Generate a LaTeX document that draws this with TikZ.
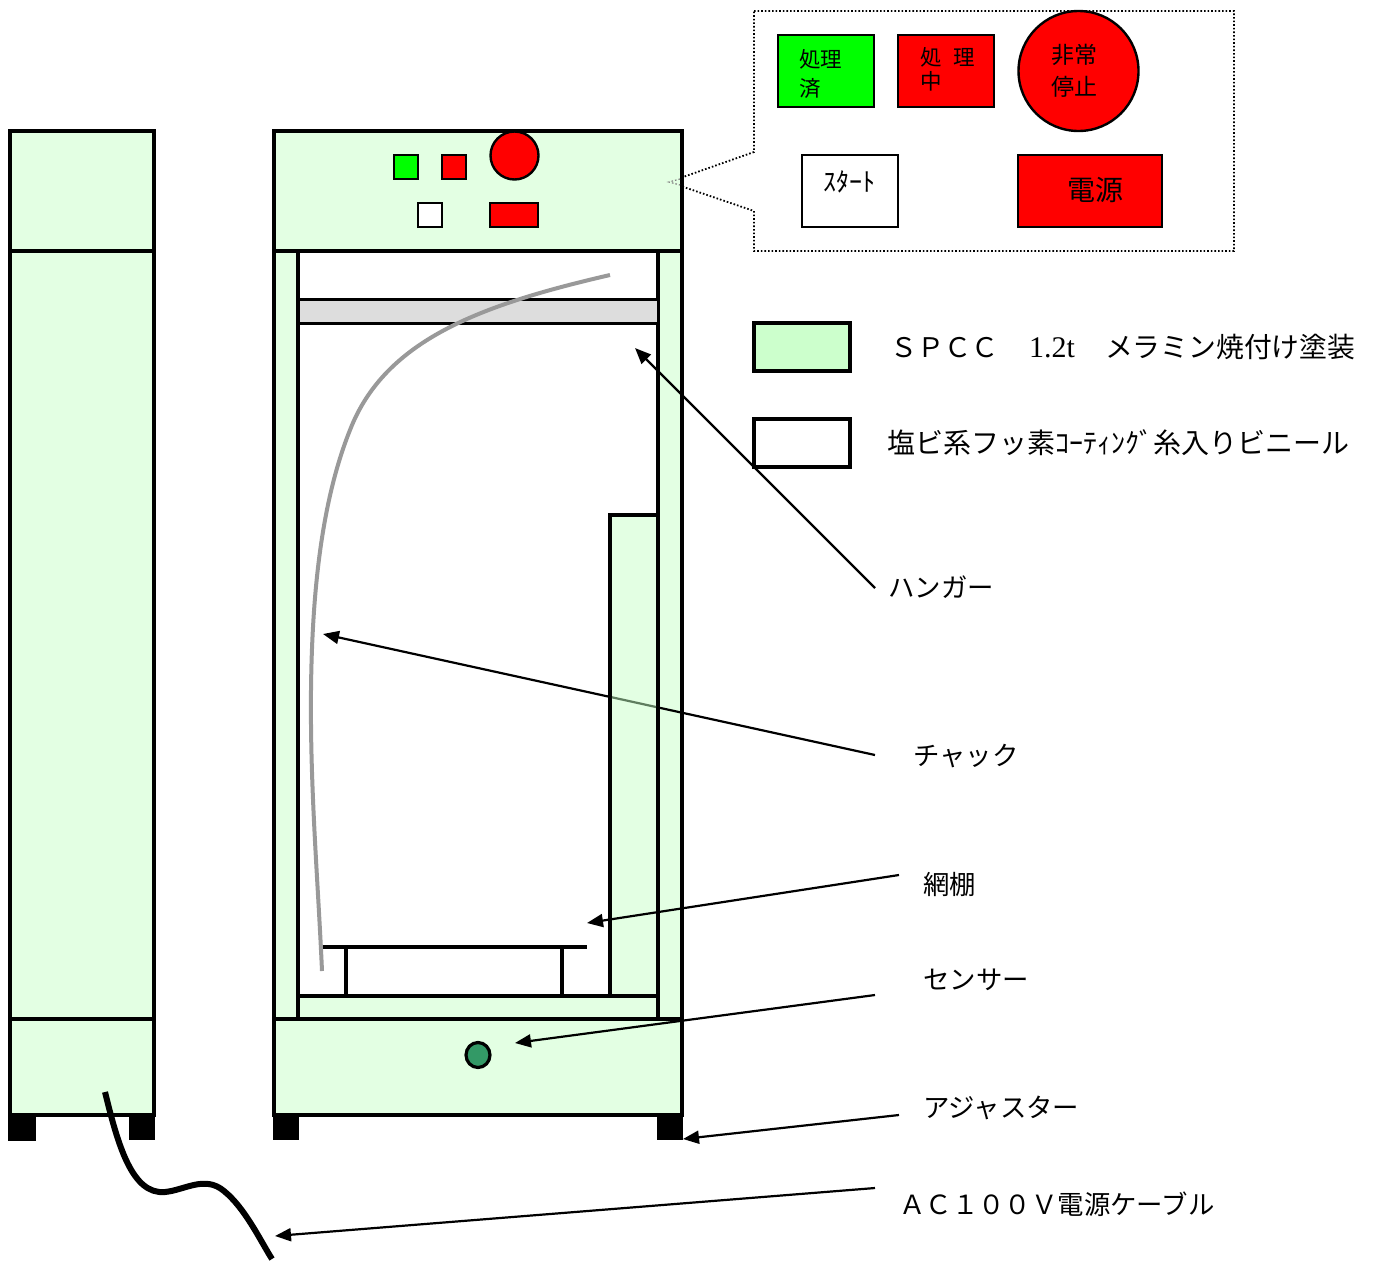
\documentclass[tikz,border=0pt]{standalone}
\usepackage{fontspec}
\setmainfont{Liberation Serif}
\newfontfamily\jp{Noto Sans CJK JP}
\usetikzlibrary{arrows.meta}
\definecolor{panel}{RGB}{227,255,227}
\definecolor{legendgreen}{RGB}{204,255,204}
\definecolor{shelfgray}{RGB}{221,221,221}
\definecolor{sensorgreen}{RGB}{51,153,102}
\definecolor{tubegray}{RGB}{153,153,153}
\definecolor{dimline}{RGB}{95,125,95}
\definecolor{puregreen}{RGB}{0,255,0}
\tikzset{
  x=1pt,y=-1pt,
  body/.style={draw=black,line width=4pt,fill=panel,line join=miter},
  thin body/.style={draw=black,line width=3.6pt,fill=panel},
  bar/.style={draw=black,line width=3.6pt},
  btn/.style={draw=black,line width=2.4pt},
  foot/.style={fill=black,draw=none},
  leader/.style={draw=black,line width=2.2pt,-{Triangle[length=16pt,width=13pt]},shorten >=0pt},
  calloutline/.style={dash pattern=on 1.6pt off 2pt,line width=1.8pt},
  lab/.style={font=\jp,anchor=west,inner sep=0pt,text=black},
  labbig/.style={lab,font=\jp\fontsize{26.4}{28}\selectfont},
  btnlab/.style={lab,font=\jp\fontsize{21.5}{29}\selectfont,align=left,anchor=north west},
}
\begin{document}
\begin{tikzpicture}
\useasboundingbox (0,0) rectangle (1376,1261);
\fill[white] (0,0) rectangle (1376,1261);
% side view
\draw[body] (10,131) rectangle (154,251);
\draw[body] (10,251) rectangle (154,1019);
\draw[body] (10,1019) rectangle (154,1115);
\fill[foot] (8,1115) rectangle (36,1141);
\fill[foot] (129,1115) rectangle (155,1140);
% callout
\coordinate (callTip) at (669,182);
\draw[calloutline] (754,11) -- (1234,11) -- (1234,251) -- (754,251) -- (754,211) -- (callTip) -- (754,152) -- cycle;
% front view
\draw[thin body] (298,996) rectangle (658,1019);
\draw[body] (274,251) rectangle (298,1019);
\draw[body] (658,251) rectangle (682,1019);
\draw[body] (274,131) rectangle (682,251);
\draw[body] (274,1019) rectangle (682,1115);
\fill[foot] (273,1115) rectangle (299,1140);
\fill[foot] (657,1115) rectangle (683,1140);
\draw[calloutline,draw=gray,line width=1.2pt] (680,179) -- (callTip) -- (680,185);
% hanger bar
\draw[draw=black,line width=3pt,fill=shelfgray] (298,299) rectangle (658,323);
% chuck arrow
\coordinate (chuckTip) at (323,634);
\node[labbig] (chuck) at (913,756) {チャック};
\coordinate (chuckTail) at (875,755);
\draw[leader] (chuckTail) -- (chuckTip);
% inner column
\draw[bar,fill=panel] (610,515) rectangle (658,996);
\draw[draw=dimline,line width=2.2pt] (612,697.3) -- (656,707);
% shelf
\draw[bar] (323,947) -- (587,947);
\draw[bar] (346,947) -- (346,996);
\draw[bar] (562,947) -- (562,996);
% tube
\draw[draw=tubegray,line width=4pt] (610,275) .. controls (480,305) and (385,340) .. (350,430) .. controls (320,505) and (312,600) .. (311,690) .. controls (310,790) and (318,880) .. (322,971);
% control panel
\draw[btn,fill=puregreen] (394,155) rectangle (418,179);
\draw[btn,fill=red] (442,155) rectangle (466,179);
\draw[btn,fill=red] (514.5,155.5) circle (24);
\draw[btn,fill=white] (418,203) rectangle (442,227);
\draw[btn,fill=red] (490,203) rectangle (538,227);
% sensor
\draw[draw=black,line width=3.2pt,fill=sensorgreen] (478,1055) ellipse (12 and 12.5);
% callout contents
\draw[btn,fill=puregreen] (778,35) rectangle (874,107);
\node[btnlab] (treated) at (799,49) {処理\\済};
\draw[btn,fill=red] (898,35) rectangle (994,107);
\node[btnlab,font=\jp\fontsize{21.5}{24}\selectfont] (running) at (920,47) {処\hspace{0.55em}理\\中};
\draw[btn,fill=red] (1078.5,71) circle (60);
\node[btnlab,font=\jp\fontsize{23}{32}\selectfont] (stop) at (1051,44) {非常\\停止};
\draw[btn,fill=white] (802,155) rectangle (898,227);
\node[lab,font=\jp\fontsize{26}{28}\selectfont] (start) at (823,182) {ｽﾀｰﾄ};
\draw[btn,fill=red] (1018,155) rectangle (1162,227);
\node[lab,font=\jp\fontsize{28}{30}\selectfont] (power) at (1067,190) {電源};
% legend
\draw[draw=black,line width=4pt,fill=legendgreen] (754,323) rectangle (850,371);
\node[lab,font=\jp\fontsize{27}{29}\selectfont] (spcc) at (890,347) {ＳＰＣＣ\hspace{31pt}{\rmfamily\fontsize{30}{32}\selectfont 1.2t}\hspace{30pt}{\fontsize{27.8}{29}\selectfont メラミン焼付け塗装}};
\draw[draw=black,line width=4pt,fill=white] (754,419) rectangle (850,467);
\node[lab,font=\jp\fontsize{28}{30}\selectfont] (pvc) at (887,443) {塩ビ系フッ素ｺｰﾃｨﾝｸﾞ糸入りビニール};
% leaders
\node[labbig] (hanger) at (888,587) {ハンガー};
\coordinate (hangerTail) at (875,588);
\coordinate (hangerTip) at (635,348);
\draw[leader] (hangerTail) -- (hangerTip);
\node[labbig] (shelf) at (923,884) {網棚};
\coordinate (shelfTail) at (899,875);
\coordinate (shelfTip) at (587,923);
\draw[leader] (shelfTail) -- (shelfTip);
\node[labbig] (sensor) at (923,980) {センサー};
\coordinate (sensorTail) at (875,995);
\coordinate (sensorTip) at (515,1043);
\draw[leader] (sensorTail) -- (sensorTip);
\node[labbig] (adjuster) at (923,1108) {アジャスター};
\coordinate (adjTail) at (899,1115);
\coordinate (adjTip) at (683,1139);
\draw[leader] (adjTail) -- (adjTip);
\node[labbig] (cable) at (899,1204) {ＡＣ１００Ｖ電源ケーブル};
\coordinate (cableTail) at (875,1188);
\coordinate (cableTip) at (275,1236);
\draw[leader] (cableTail) -- (cableTip);
% power cable
\draw[draw=black,line width=6pt] (105,1092) .. controls (118,1145) and (132,1195) .. (165,1192) .. controls (185,1190) and (205,1175) .. (224,1191) .. controls (245,1208) and (260,1240) .. (272,1259);
\end{tikzpicture}
\end{document}
